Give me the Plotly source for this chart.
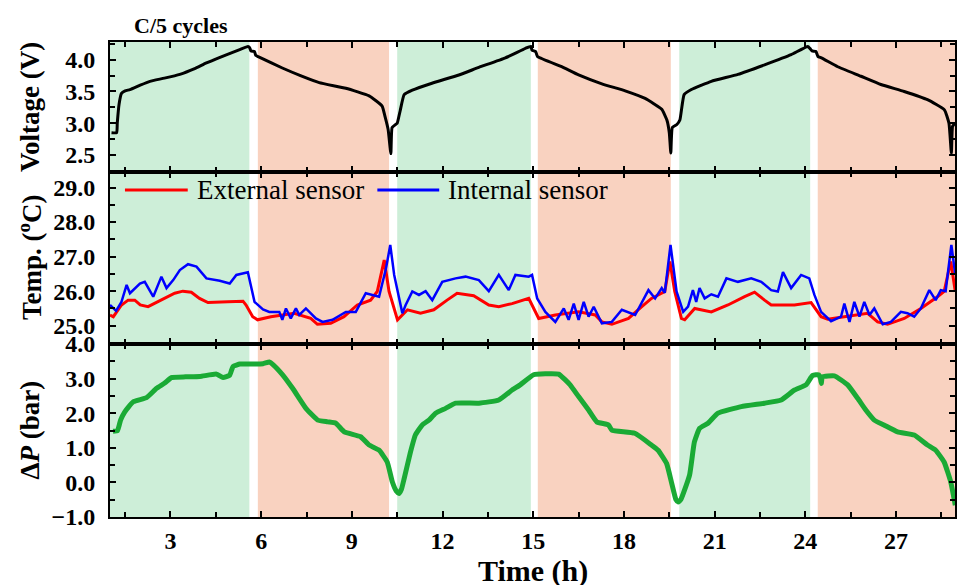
import plotly.graph_objects as go
from plotly.subplots import make_subplots

# ---------------- data ----------------
volt_t = [1.05, 1.22, 1.24, 1.3, 1.38, 1.5, 1.66, 2.0, 2.32, 2.8, 3.31, 3.8, 4.19, 4.7, 5.29, 5.56,
          5.62, 5.66, 5.78, 5.82, 5.9, 6.7, 7.3, 7.92, 8.8, 9.57, 10.0, 10.1, 10.2, 10.29, 10.33,
          10.45, 10.5, 10.6, 10.73, 11.0, 11.65, 12.54, 13.2, 14.08, 14.74, 14.92, 14.96, 15.08,
          15.14, 15.94, 16.5, 17.27, 18.04, 18.7, 19.25, 19.42, 19.5, 19.55, 19.6, 19.75, 19.85,
          19.99, 20.23, 20.89, 21.77, 22.65, 23.53, 24.08, 24.15, 24.22, 24.35, 24.42, 24.53,
          25.07, 25.84, 26.5, 27.27, 28.04, 28.6, 28.75, 28.83, 28.87, 28.95]
volt_v = [2.85, 2.85, 3.0, 3.3, 3.47, 3.51, 3.53, 3.6, 3.66, 3.71, 3.77, 3.86, 3.95, 4.05, 4.16, 4.21,
          4.19, 4.14, 4.13, 4.07, 4.05, 3.87, 3.75, 3.64, 3.55, 3.43, 3.27, 3.1, 2.9, 2.52, 2.93,
          2.98, 3.0, 3.2, 3.45, 3.52, 3.63, 3.76, 3.88, 4.03, 4.18, 4.21, 4.15, 4.13,
          4.05, 3.89, 3.76, 3.62, 3.51, 3.39, 3.22, 3.05, 2.85, 2.53, 2.93, 2.98, 3.05,
          3.45, 3.53, 3.66, 3.77, 3.92, 4.08, 4.21, 4.18, 4.14, 4.13, 4.05, 4.03,
          3.89, 3.74, 3.61, 3.5, 3.37, 3.21, 3.0, 2.53, 2.95, 3.0]

ext_t = [1.0, 1.11, 1.38, 1.6, 1.82, 2.0, 2.26, 2.59, 3.14, 3.41, 3.69, 3.96, 4.24, 4.9, 5.4, 5.5,
         5.72, 5.88, 6.32, 7.09, 7.64, 7.86, 8.3, 8.74, 9.18, 9.62, 9.84, 10.07, 10.23, 10.51,
         10.84, 11.27, 11.71, 12.15, 12.48, 13.03, 13.53, 13.86, 14.3, 14.85, 15.07, 15.18, 15.73,
         16.5, 17.05, 17.27, 17.6, 18.15, 18.59, 18.91, 19.35, 19.52, 19.68, 19.9, 20.01, 20.34,
         20.89, 21.44, 21.99, 22.32, 22.65, 22.87, 23.64, 24.19, 24.52, 24.74, 25.29, 26.06,
         26.39, 26.72, 27.27, 27.82, 28.37, 28.59, 28.81, 28.96]
ext_temp = [25.31, 25.26, 25.6, 25.74, 25.74, 25.6, 25.55, 25.69, 25.94, 26.0, 25.97, 25.79, 25.67,
            25.69, 25.71, 25.6, 25.26, 25.17, 25.26, 25.36, 25.21, 25.04, 25.07, 25.26, 25.6, 25.74,
            25.99, 26.9, 25.99, 25.17, 25.46, 25.36, 25.46, 25.74, 25.94, 25.87, 25.6, 25.55, 25.64,
            25.79, 25.4, 25.21, 25.31, 25.4, 25.31, 25.11, 25.04, 25.21, 25.55, 25.79, 25.99, 26.86,
            25.99, 25.21, 25.17, 25.5, 25.4, 25.6, 25.84, 25.97, 25.74, 25.6, 25.6, 25.67, 25.26,
            25.19, 25.26, 25.36, 25.11, 25.04, 25.21, 25.5, 25.84, 25.99, 26.86, 25.99]

int_t = [1.0, 1.2, 1.38, 1.55, 1.66, 1.99, 2.15, 2.43, 2.7, 2.87, 3.09, 3.31, 3.58, 3.86, 4.19, 4.63,
         4.96, 5.18, 5.56, 5.78, 6.06, 6.27, 6.6, 6.7, 6.82, 6.98, 7.15, 7.26, 7.48, 7.81, 8.03,
         8.36, 8.8, 9.13, 9.46, 9.9, 10.13, 10.27, 10.4, 10.67, 10.78, 11.0, 11.22, 11.44, 11.66,
         11.99, 12.43, 12.76, 13.2, 13.53, 13.86, 14.19, 14.41, 14.85, 14.96, 15.13, 15.4, 15.73,
         16.01, 16.17, 16.34, 16.5, 16.67, 16.83, 17.0, 17.27, 17.6, 17.93, 18.37, 18.59, 18.81,
         19.03, 19.25, 19.35, 19.54, 19.74, 19.96, 20.12, 20.28, 20.39, 20.5, 20.67, 20.89, 21.11,
         21.39, 21.77, 22.21, 22.54, 22.87, 23.09, 23.26, 23.53, 23.86, 24.13, 24.3, 24.52, 24.85,
         25.18, 25.29, 25.46, 25.62, 25.79, 25.95, 26.12, 26.28, 26.56, 26.83, 27.16, 27.38, 27.6,
         27.82, 28.1, 28.31, 28.48, 28.64, 28.83, 28.96]
int_temp = [25.6, 25.43, 25.69, 26.18, 25.94, 26.22, 26.27, 25.84, 26.42, 26.09, 26.32, 26.61, 26.78,
            26.71, 26.37, 26.3, 26.22, 26.47, 26.55, 25.69, 25.47, 25.4, 25.4, 25.17, 25.5, 25.21,
            25.5, 25.31, 25.5, 25.21, 25.11, 25.17, 25.4, 25.4, 25.94, 25.84, 26.66, 27.34, 26.47,
            25.36, 25.6, 25.99, 25.89, 26.0, 25.74, 26.27, 26.37, 26.42, 26.32, 26.0, 26.47, 26.03,
            26.47, 26.42, 26.47, 25.79, 25.4, 25.11, 25.5, 25.17, 25.64, 25.17, 25.69, 25.26, 25.55,
            25.07, 25.11, 25.46, 25.31, 25.69, 26.03, 25.79, 26.09, 25.95, 27.34, 25.99, 25.4, 25.55,
            26.03, 25.69, 26.09, 25.79, 25.91, 25.84, 26.37, 26.27, 26.37, 26.27, 26.03, 25.99, 26.55,
            26.09, 26.47, 26.37, 25.89, 25.4, 25.13, 25.26, 25.64, 25.11, 25.69, 25.26, 25.69, 25.31,
            25.5, 25.04, 25.11, 25.4, 25.36, 25.26, 25.5, 26.03, 25.74, 26.03, 26.0, 27.34, 26.47]

dp_t = [1.1, 1.25, 1.35, 1.49, 1.77, 2.21, 2.54, 2.81, 3.03, 3.5, 3.97, 4.52, 4.74, 4.96, 5.07, 5.3,
        5.51, 6.06, 6.27, 6.4, 6.71, 7.04, 7.48, 7.87, 8.2, 8.47, 8.75, 9.29, 9.57, 9.9, 10.17,
        10.34, 10.47, 10.56, 10.64, 10.73, 10.94, 11.1, 11.33, 11.55, 11.77, 12.1, 12.43, 13.2,
        13.86, 14.3, 14.57, 15.01, 15.4, 15.84, 16.22, 16.5, 16.83, 17.1, 17.49, 17.6, 18.36,
        18.91, 19.13, 19.41, 19.57, 19.72, 19.79, 19.88, 20.17, 20.33, 20.5, 20.78, 21.11, 21.88,
        22.65, 23.2, 23.64, 24.02, 24.24, 24.45, 24.5, 24.53, 24.56, 24.96, 25.4, 25.73, 26.0,
        26.28, 26.6, 27.05, 27.6, 28.04, 28.31, 28.59, 28.81, 28.96]
dp_bar = [1.48, 1.5, 1.8, 2.04, 2.33, 2.45, 2.72, 2.87, 3.03, 3.05, 3.06, 3.13, 3.03, 3.1, 3.35, 3.42,
          3.42, 3.43, 3.48, 3.4, 3.11, 2.72, 2.14, 1.8, 1.75, 1.71, 1.46, 1.32, 1.08, 0.93, 0.59,
          0.01, -0.25, -0.32, -0.2, 0.11, 0.88, 1.37, 1.66, 1.8, 2.0, 2.14, 2.29, 2.29,
          2.38, 2.67, 2.82, 3.11, 3.14, 3.13, 2.82, 2.48, 2.09, 1.75, 1.66, 1.51, 1.42,
          1.08, 0.93, 0.55, 0.01, -0.5, -0.57, -0.5, 0.21, 1.17, 1.56, 1.71, 2.0, 2.19,
          2.29, 2.38, 2.67, 2.82, 3.09, 3.11, 3.0, 2.86, 3.05, 3.08, 2.82, 2.43, 2.09,
          1.8, 1.66, 1.46, 1.37, 1.08, 0.93, 0.59, 0.01, -0.66]

# charge / discharge periods (h)
phase_start = [1.0, 5.89, 10.5, 15.15, 19.83, 24.41]
phase_end = [5.61, 10.23, 14.92, 19.55, 24.16, 28.95]
phase_kind = ["charge", "discharge", "charge", "discharge", "charge", "discharge"]

x_ticks = [3, 6, 9, 12, 15, 18, 21, 24, 27]
v_ticks = [2.5, 3.0, 3.5, 4.0]
t_ticks = [25.0, 26.0, 27.0, 28.0, 29.0]
p_ticks = [-1.0, 0.0, 1.0, 2.0, 3.0, 4.0]

# ---------------- figure ----------------
SERIF = "Liberation Serif"
fig = make_subplots(rows=3, cols=1, shared_xaxes=True, vertical_spacing=0,
                    row_heights=[130, 172, 173])

fig.add_trace(go.Scatter(x=volt_t, y=volt_v, mode="lines",
                         line=dict(color="black", width=3, shape="spline", smoothing=0.4),
                         showlegend=False), row=1, col=1)
fig.add_trace(go.Scatter(x=ext_t, y=ext_temp, mode="lines", line=dict(color="#ff0000", width=3),
                         name="External sensor", showlegend=False), row=2, col=1)
fig.add_trace(go.Scatter(x=int_t, y=int_temp, mode="lines", line=dict(color="#0000ff", width=2.5),
                         name="Internal sensor", showlegend=False), row=2, col=1)
fig.add_trace(go.Scatter(x=dp_t, y=dp_bar, mode="lines",
                         line=dict(color="#1aaa35", width=5, shape="spline", smoothing=0.4),
                         showlegend=False), row=3, col=1)

fill = {"charge": "#cdeed8", "discharge": "#f9d2c0"}
for s, e, k in zip(phase_start, phase_end, phase_kind):
    fig.add_shape(type="rect", xref="x", yref="paper", x0=s, x1=e, y0=0, y1=1,
                  fillcolor=fill[k], line=dict(width=0), layer="below")

axis_common = dict(showline=True, linecolor="black", linewidth=2, mirror="ticks",
                   ticks="inside", ticklen=6, tickwidth=2, tickcolor="black",
                   showgrid=False, zeroline=False)

for r in (1, 2, 3):
    fig.update_xaxes(range=[1.0, 28.95], tickvals=x_ticks, showticklabels=(r == 3),
                     minor=dict(dtick=1.5, tick0=0, ticks="inside", ticklen=5, tickwidth=2,
                                tickcolor="black"),
                     tickfont=dict(family=SERIF, size=24, color="black", weight="bold"),
                     ticklabelstandoff=1, row=r, col=1, **axis_common)

ytf = dict(family=SERIF, size=24, color="black", weight="bold")
fig.update_yaxes(range=[2.23, 4.28], tickvals=v_ticks, tickformat=".1f", tickfont=ytf,
                 minor=dict(dtick=0.25, tick0=0, ticks="inside", ticklen=5, tickwidth=2, tickcolor="black"),
                 ticklabelstandoff=8, row=1, col=1, **axis_common)
fig.update_yaxes(range=[24.47, 29.45], tickvals=t_ticks, tickformat=".1f", tickfont=ytf,
                 minor=dict(dtick=0.5, tick0=0, ticks="inside", ticklen=5, tickwidth=2, tickcolor="black"),
                 ticklabelstandoff=8, row=2, col=1, **axis_common)
fig.update_yaxes(range=[-1.0, 4.0], tickvals=p_ticks, tickformat=".1f", tickfont=ytf,
                 minor=dict(dtick=0.5, tick0=0, ticks="inside", ticklen=5, tickwidth=2, tickcolor="black"),
                 ticklabelstandoff=8, row=3, col=1, **axis_common)

# legend drawn manually
leg = [("#ff0000", 0.0177, 0.092, 0.1004, "External sensor"),
       ("#0000ff", 0.3164, 0.3896, 0.398, "Internal sensor")]
for col, a, b, tx, label in leg:
    fig.add_shape(type="line", xref="x2 domain", yref="y2 domain", x0=a, x1=b, y0=0.895, y1=0.895,
                  line=dict(color=col, width=3))
    fig.add_annotation(xref="x2 domain", yref="y2 domain", x=tx, y=0.895, xanchor="left",
                       yanchor="middle", text=label, showarrow=False,
                       font=dict(family=SERIF, size=27, color="black"))

title_font = dict(family=SERIF, size=27, color="black", weight="bold")
for yref, text in [("y domain", "Voltage (V)"), ("y2 domain", "Temp. (<sup>o</sup>C)"),
                   ("y3 domain", "Δ<i>P</i> (bar)")]:
    fig.add_annotation(xref="paper", yref=yref, x=0, y=0.5, xshift=-80, textangle=-90,
                       xanchor="center", yanchor="middle", text=text, showarrow=False,
                       font=title_font)

fig.add_annotation(xref="paper", yref="paper", x=0.5, y=0, yanchor="top", yshift=-35,
                   text="Time (h)", showarrow=False,
                   font=dict(family=SERIF, size=30, color="black", weight="bold"))
fig.add_annotation(xref="paper", yref="paper", x=0, y=1, xanchor="left", yanchor="bottom",
                   xshift=22, yshift=2, text="C/5 cycles", showarrow=False,
                   font=dict(family=SERIF, size=22, color="black", weight="bold"))

fig.update_layout(width=958, height=585, margin=dict(l=110, r=1, t=42, b=68),
                  plot_bgcolor="white", paper_bgcolor="white", showlegend=False)

fig.write_html("out.html", config={"displayModeBar": False},
               post_script="document.body.style.margin='0';document.body.style.overflow='hidden';")
